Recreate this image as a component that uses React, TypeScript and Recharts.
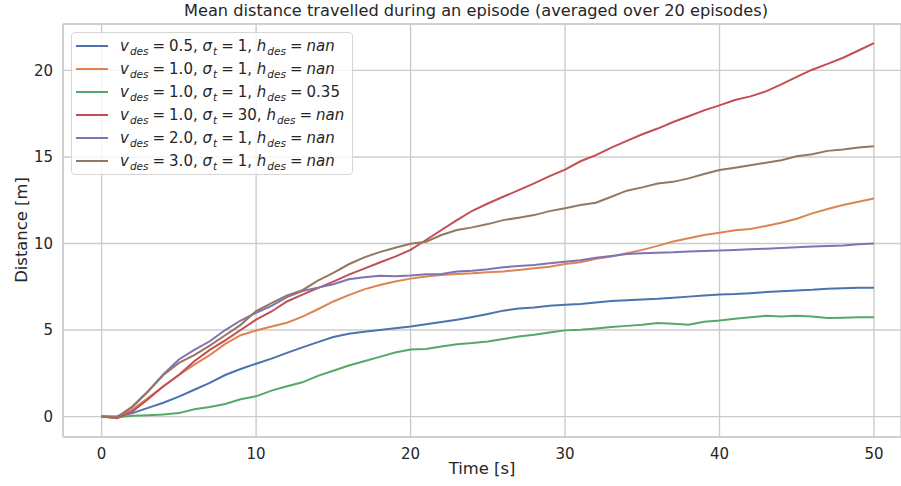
import React from 'react';
import { LineChart, Line, XAxis, YAxis, CartesianGrid, Legend, ReferenceLine, Label } from 'recharts';

const TIME = [0, 1, 2, 3, 4, 5, 6, 7, 8, 9, 10, 11, 12, 13, 14, 15, 16, 17, 18, 19, 20, 21, 22, 23, 24, 25, 26, 27, 28, 29, 30, 31, 32, 33, 34, 35, 36, 37, 38, 39, 40, 41, 42, 43, 44, 45, 46, 47, 48, 49, 50];

const DIST_V05 = [0, 0.02, 0.2, 0.5, 0.8, 1.15, 1.55, 1.95, 2.4, 2.75, 3.05, 3.35, 3.68, 4.0, 4.3, 4.6, 4.78, 4.9, 5.0, 5.1, 5.2, 5.33, 5.46, 5.6, 5.75, 5.93, 6.12, 6.24, 6.3, 6.4, 6.46, 6.5, 6.59, 6.67, 6.72, 6.76, 6.8, 6.86, 6.93, 7.0, 7.05, 7.08, 7.13, 7.19, 7.24, 7.28, 7.32, 7.38, 7.42, 7.44, 7.44];
const DIST_V10 = [0, -0.08, 0.4, 1.07, 1.75, 2.4, 3.0, 3.55, 4.2, 4.7, 4.97, 5.2, 5.42, 5.77, 6.2, 6.65, 7.02, 7.35, 7.6, 7.8, 7.97, 8.09, 8.18, 8.24, 8.28, 8.34, 8.38, 8.47, 8.57, 8.66, 8.82, 8.92, 9.12, 9.24, 9.43, 9.63, 9.86, 10.11, 10.3, 10.49, 10.62, 10.76, 10.84, 11.01, 11.2, 11.43, 11.74, 11.99, 12.22, 12.41, 12.6];
const DIST_V10_H = [0, -0.04, 0.05, 0.08, 0.12, 0.2, 0.42, 0.55, 0.73, 1.0, 1.17, 1.5, 1.75, 1.98, 2.35, 2.65, 2.95, 3.2, 3.45, 3.7, 3.88, 3.9, 4.05, 4.18, 4.25, 4.34, 4.48, 4.63, 4.73, 4.86, 4.98, 5.01, 5.09, 5.17, 5.24, 5.3, 5.4, 5.36, 5.3, 5.48, 5.55, 5.65, 5.74, 5.82, 5.78, 5.82, 5.78, 5.69, 5.71, 5.74, 5.74];
const DIST_V10_S30 = [0, -0.1, 0.3, 1.0, 1.75, 2.4, 3.2, 3.85, 4.4, 5.0, 5.6, 6.07, 6.65, 7.05, 7.42, 7.8, 8.2, 8.55, 8.9, 9.24, 9.63, 10.2, 10.78, 11.35, 11.89, 12.31, 12.7, 13.08, 13.47, 13.89, 14.27, 14.75, 15.1, 15.54, 15.93, 16.31, 16.64, 17.02, 17.35, 17.69, 17.98, 18.29, 18.5, 18.79, 19.19, 19.62, 20.04, 20.38, 20.73, 21.15, 21.58];
const DIST_V20 = [0, -0.02, 0.55, 1.45, 2.45, 3.3, 3.85, 4.35, 5.0, 5.55, 6.0, 6.4, 6.9, 7.25, 7.45, 7.65, 7.93, 8.05, 8.13, 8.1, 8.15, 8.22, 8.24, 8.38, 8.43, 8.51, 8.63, 8.7, 8.76, 8.86, 8.95, 9.03, 9.18, 9.28, 9.39, 9.43, 9.47, 9.49, 9.53, 9.57, 9.59, 9.63, 9.66, 9.7, 9.74, 9.78, 9.82, 9.86, 9.89, 9.95, 10.0];
const DIST_V30 = [0, -0.05, 0.6, 1.45, 2.4, 3.1, 3.55, 4.1, 4.7, 5.3, 6.1, 6.55, 7.0, 7.3, 7.85, 8.3, 8.8, 9.2, 9.5, 9.75, 9.98, 10.1, 10.49, 10.78, 10.93, 11.12, 11.35, 11.49, 11.64, 11.87, 12.03, 12.22, 12.35, 12.7, 13.05, 13.24, 13.47, 13.56, 13.76, 14.01, 14.24, 14.38, 14.52, 14.66, 14.81, 15.04, 15.16, 15.35, 15.43, 15.54, 15.62];

const V_DES = ['0.5', '1.0', '1.0', '1.0', '2.0', '3.0'];
const SIGMA_T = ['1', '1', '1', '30', '1', '1'];
const H_DES = ['nan', 'nan', '0.35', 'nan', 'nan', 'nan'];
const COLORS = ['#4C72B0', '#DD8452', '#55A868', '#C44E52', '#8172B3', '#937860'];
const VALUES = [DIST_V05, DIST_V10, DIST_V10_H, DIST_V10_S30, DIST_V20, DIST_V30];

const X_TICKS = [0, 10, 20, 30, 40, 50];
const Y_TICKS = [0, 5, 10, 15, 20];

const FONT = '"DejaVu Sans", sans-serif';
const TEXT = '#262626';
const GRID = '#cccccc';

const data = TIME.map((t, i) => {
  const row: Record<string, number> = { t };
  VALUES.forEach((vals, k) => { row['s' + k] = vals[i]; });
  return row;
});

const subStyle: React.CSSProperties = {
  fontSize: 10.5,
  fontStyle: 'italic',
  position: 'relative',
  top: 4,
  marginLeft: 1,
};

const MathLabel = ({ idx }: { idx: number }) => (
  <span style={{ whiteSpace: 'nowrap' }}>
    <i>v</i><span style={subStyle}>des</span>
    <span style={{ margin: '0 4px' }}>=</span>{V_DES[idx]},{' '}
    <i>σ</i><span style={subStyle}>t</span>
    <span style={{ margin: '0 4px' }}>=</span>{SIGMA_T[idx]},{' '}
    <i>h</i><span style={subStyle}>des</span>
    <span style={{ margin: '0 4px' }}>=</span>
    {H_DES[idx] === 'nan' ? <i>nan</i> : H_DES[idx]}
  </span>
);

const LegendBox = () => (
  <div
    style={{
      width: 280,
      height: 140,
      border: '1px solid #d6d6d6',
      borderRadius: 4,
      background: 'rgba(255,255,255,0.8)',
      fontFamily: FONT,
      fontSize: 15,
      color: TEXT,
      paddingTop: 1,
      boxSizing: 'content-box',
    }}
  >
    {V_DES.map((_, i) => (
      <div key={i} style={{ height: 23, display: 'flex', alignItems: 'center' }}>
        <div style={{ width: 32, height: 2, background: COLORS[i], marginLeft: 4, marginRight: 12 }} />
        <MathLabel idx={i} />
      </div>
    ))}
  </div>
);

export default function App() {
  return (
    <div style={{ position: 'relative', width: 901, height: 486, overflow: 'hidden', background: '#fff' }}>
      <style>{`body{margin:0}`}</style>
      <div
        style={{
          position: 'absolute',
          left: 0,
          top: 3,
          width: 952,
          textAlign: 'center',
          fontFamily: FONT,
          fontSize: 16.2,
          lineHeight: '16px',
          color: TEXT,
          zIndex: 2,
        }}
      >
        Mean distance travelled during an episode (averaged over 20 episodes)
      </div>
      <LineChart width={901} height={486} data={data} margin={{ top: 24, right: 0, bottom: 0, left: 0 }}>
        <CartesianGrid stroke={GRID} strokeWidth={1.4} />
        <ReferenceLine y={22.68} stroke={GRID} strokeWidth={1.4} />
        <XAxis
          dataKey="t"
          type="number"
          domain={[-2.5, 51.75]}
          ticks={X_TICKS}
          allowDataOverflow
          height={49}
          tickSize={0}
          tickMargin={11}
          axisLine={{ stroke: GRID, strokeWidth: 1.4 }}
          tick={{ fill: TEXT, fontSize: 15, fontFamily: FONT }}
        >
          <Label value="Time [s]" position="insideBottom" offset={12} fill={TEXT} fontSize={16.4} fontFamily={FONT} />
        </XAxis>
        <YAxis
          type="number"
          domain={[-1.18, 22.68]}
          ticks={Y_TICKS}
          allowDataOverflow
          width={63}
          tickSize={0}
          tickMargin={10}
          axisLine={{ stroke: GRID, strokeWidth: 1.4 }}
          tick={{ fill: TEXT, fontSize: 15, fontFamily: FONT }}
        >
          <Label
            content={() => (
              <text
                x={27}
                y={230}
                transform="rotate(-90 27 230)"
                textAnchor="middle"
                fill={TEXT}
                fontSize={16.4}
                fontFamily={FONT}
              >
                Distance [m]
              </text>
            )}
          />
        </YAxis>
        {VALUES.map((_, k) => (
          <Line
            key={k}
            type="linear"
            dataKey={'s' + k}
            stroke={COLORS[k]}
            strokeWidth={2}
            dot={false}
            isAnimationActive={false}
          />
        ))}
        <Legend
          layout="vertical"
          align="center"
          verticalAlign="middle"
          content={() => <LegendBox />}
          wrapperStyle={{ position: 'absolute', left: 71, top: 32, width: 'auto', height: 'auto' }}
        />
      </LineChart>
    </div>
  );
}
